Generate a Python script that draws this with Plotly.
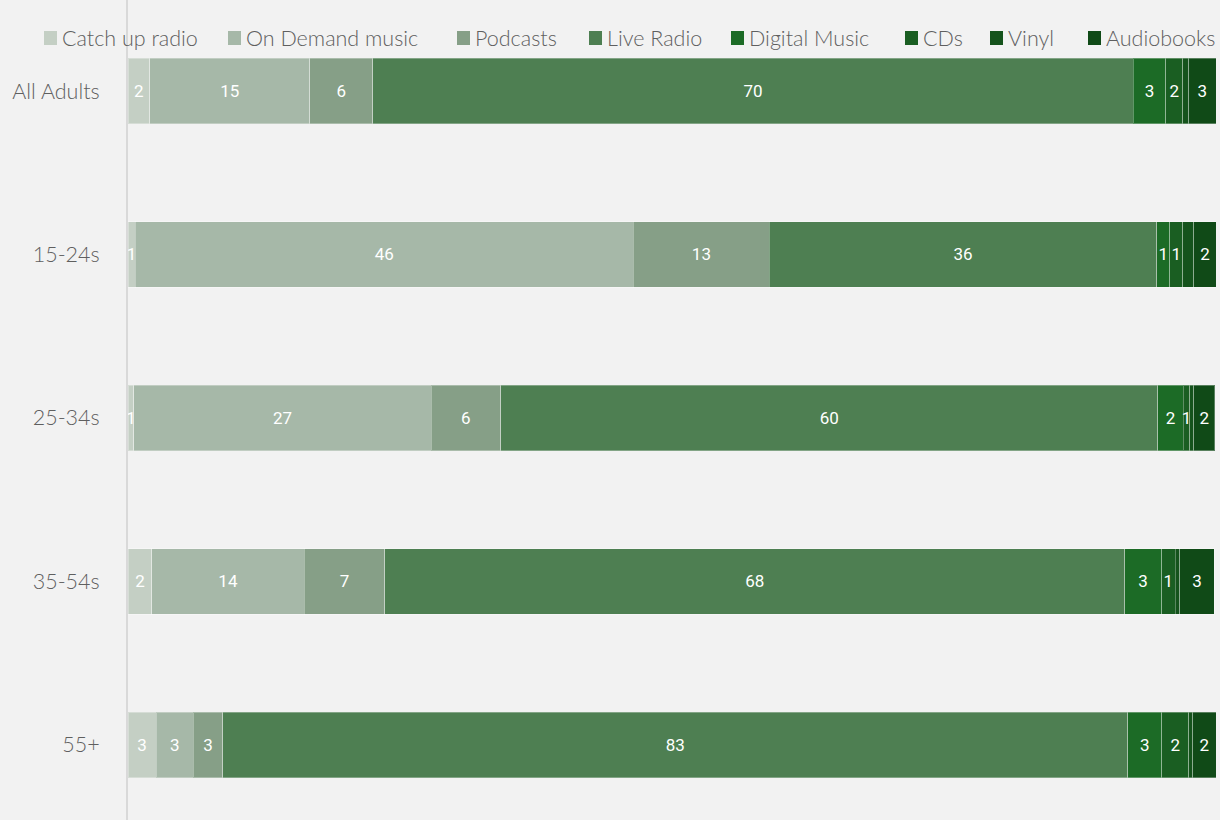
import plotly.graph_objects as go

# Age groups, top to bottom
groups = ["All Adults", "15-24s", "25-34s", "35-54s", "55+"]

series = ["Catch up radio", "On Demand music", "Podcasts", "Live Radio",
          "Digital Music", "CDs", "Vinyl", "Audiobooks"]

# share of listening (%)
catch_up = [2.0, 0.65, 0.55, 2.2, 2.6]
on_demand = [14.7, 45.8, 27.3, 14.0, 3.4]
podcasts = [5.8, 12.5, 6.4, 7.4, 2.7]
live_radio = [69.9, 35.6, 60.4, 68.0, 83.2]
digital_music = [3.0, 1.2, 2.35, 3.4, 3.1]
cds = [1.55, 1.2, 0.6, 1.25, 2.5]
vinyl = [0.55, 1.0, 0.35, 0.4, 0.35]
audiobooks = [2.5, 2.1, 1.95, 3.2, 2.15]

# labels as printed on the segments (blank where none is shown)
catch_up_lbl = ["2", "1", "1", "2", "3"]
on_demand_lbl = ["15", "46", "27", "14", "3"]
podcasts_lbl = ["6", "13", "6", "7", "3"]
live_radio_lbl = ["70", "36", "60", "68", "83"]
digital_music_lbl = ["3", "1", "2", "3", "3"]
cds_lbl = ["2", "1", "1", "1", "2"]
vinyl_lbl = ["", "", "", "", ""]
audiobooks_lbl = ["3", "2", "2", "3", "2"]

values = [catch_up, on_demand, podcasts, live_radio,
          digital_music, cds, vinyl, audiobooks]
labels = [catch_up_lbl, on_demand_lbl, podcasts_lbl, live_radio_lbl,
          digital_music_lbl, cds_lbl, vinyl_lbl, audiobooks_lbl]
colors = ["#c4cfc4", "#a6b8a8", "#869f87", "#4e7f52",
          "#1c6b26", "#1a5e22", "#15531c", "#104a17"]

W, H = 1220, 820
L, R = 128, 4
BG = "#f2f2f2"
TXT = "#5f5f5f"

fig = go.Figure()
for name, vals, lbl, col in zip(series, values, labels, colors):
    fig.add_trace(
        go.Bar(
            y=groups,
            x=vals,
            name=name,
            orientation="h",
            width=0.4,
            marker=dict(color=col, line=dict(color="rgba(255,255,255,0.3)", width=1)),
            text=lbl,
            textposition="inside",
            insidetextanchor="middle",
            textangle=0,
            constraintext="none",
            textfont=dict(family="Roboto, Arial, sans-serif", size=17,
                          color="white", weight=400),
            hoverinfo="skip",
        )
    )

# hand-drawn legend across the top (square + label), left edge of each square in px
legend_x = [44, 228, 457, 589, 731, 905, 990, 1088]
legend_y = 38
pw = W - L - R


def to_paper_x(px):
    return (px - L) / pw


def to_paper_y(py):
    return 1 - py / H


shapes = []
annotations = []
for name, col, px in zip(series, colors, legend_x):
    shapes.append(dict(
        type="rect", xref="paper", yref="paper", layer="above",
        x0=to_paper_x(px), x1=to_paper_x(px + 13),
        y0=to_paper_y(legend_y + 7), y1=to_paper_y(legend_y - 7),
        fillcolor=col, line=dict(width=0),
    ))
    annotations.append(dict(
        text=name, xref="paper", yref="paper",
        x=to_paper_x(px + 16), y=to_paper_y(legend_y),
        xanchor="left", yanchor="middle", showarrow=False,
        font=dict(size=21.5, color=TXT),
    ))

fig.update_layout(
    width=W,
    height=H,
    barmode="stack",
    paper_bgcolor=BG,
    plot_bgcolor=BG,
    margin=dict(l=L, r=R, t=0, b=0),
    font=dict(family="Lato, 'Open Sans', sans-serif", size=22, color=TXT, weight=300),
    showlegend=False,
    shapes=shapes,
    annotations=annotations,
    xaxis=dict(
        range=[0, 100],
        visible=False,
        showgrid=False,
        zeroline=False,
    ),
    yaxis=dict(
        categoryorder="array",
        categoryarray=groups,
        range=[4.46, -0.557],
        showline=True,
        linecolor="#d9d9d9",
        linewidth=2,
        showgrid=False,
        zeroline=False,
        ticks="",
        ticklabelstandoff=22,
        tickfont=dict(size=21.5, color=TXT),
    ),
)

fig.write_html(
    "out.html",
    config={"displayModeBar": False},
    post_script="document.body.style.margin='0px';",
)
